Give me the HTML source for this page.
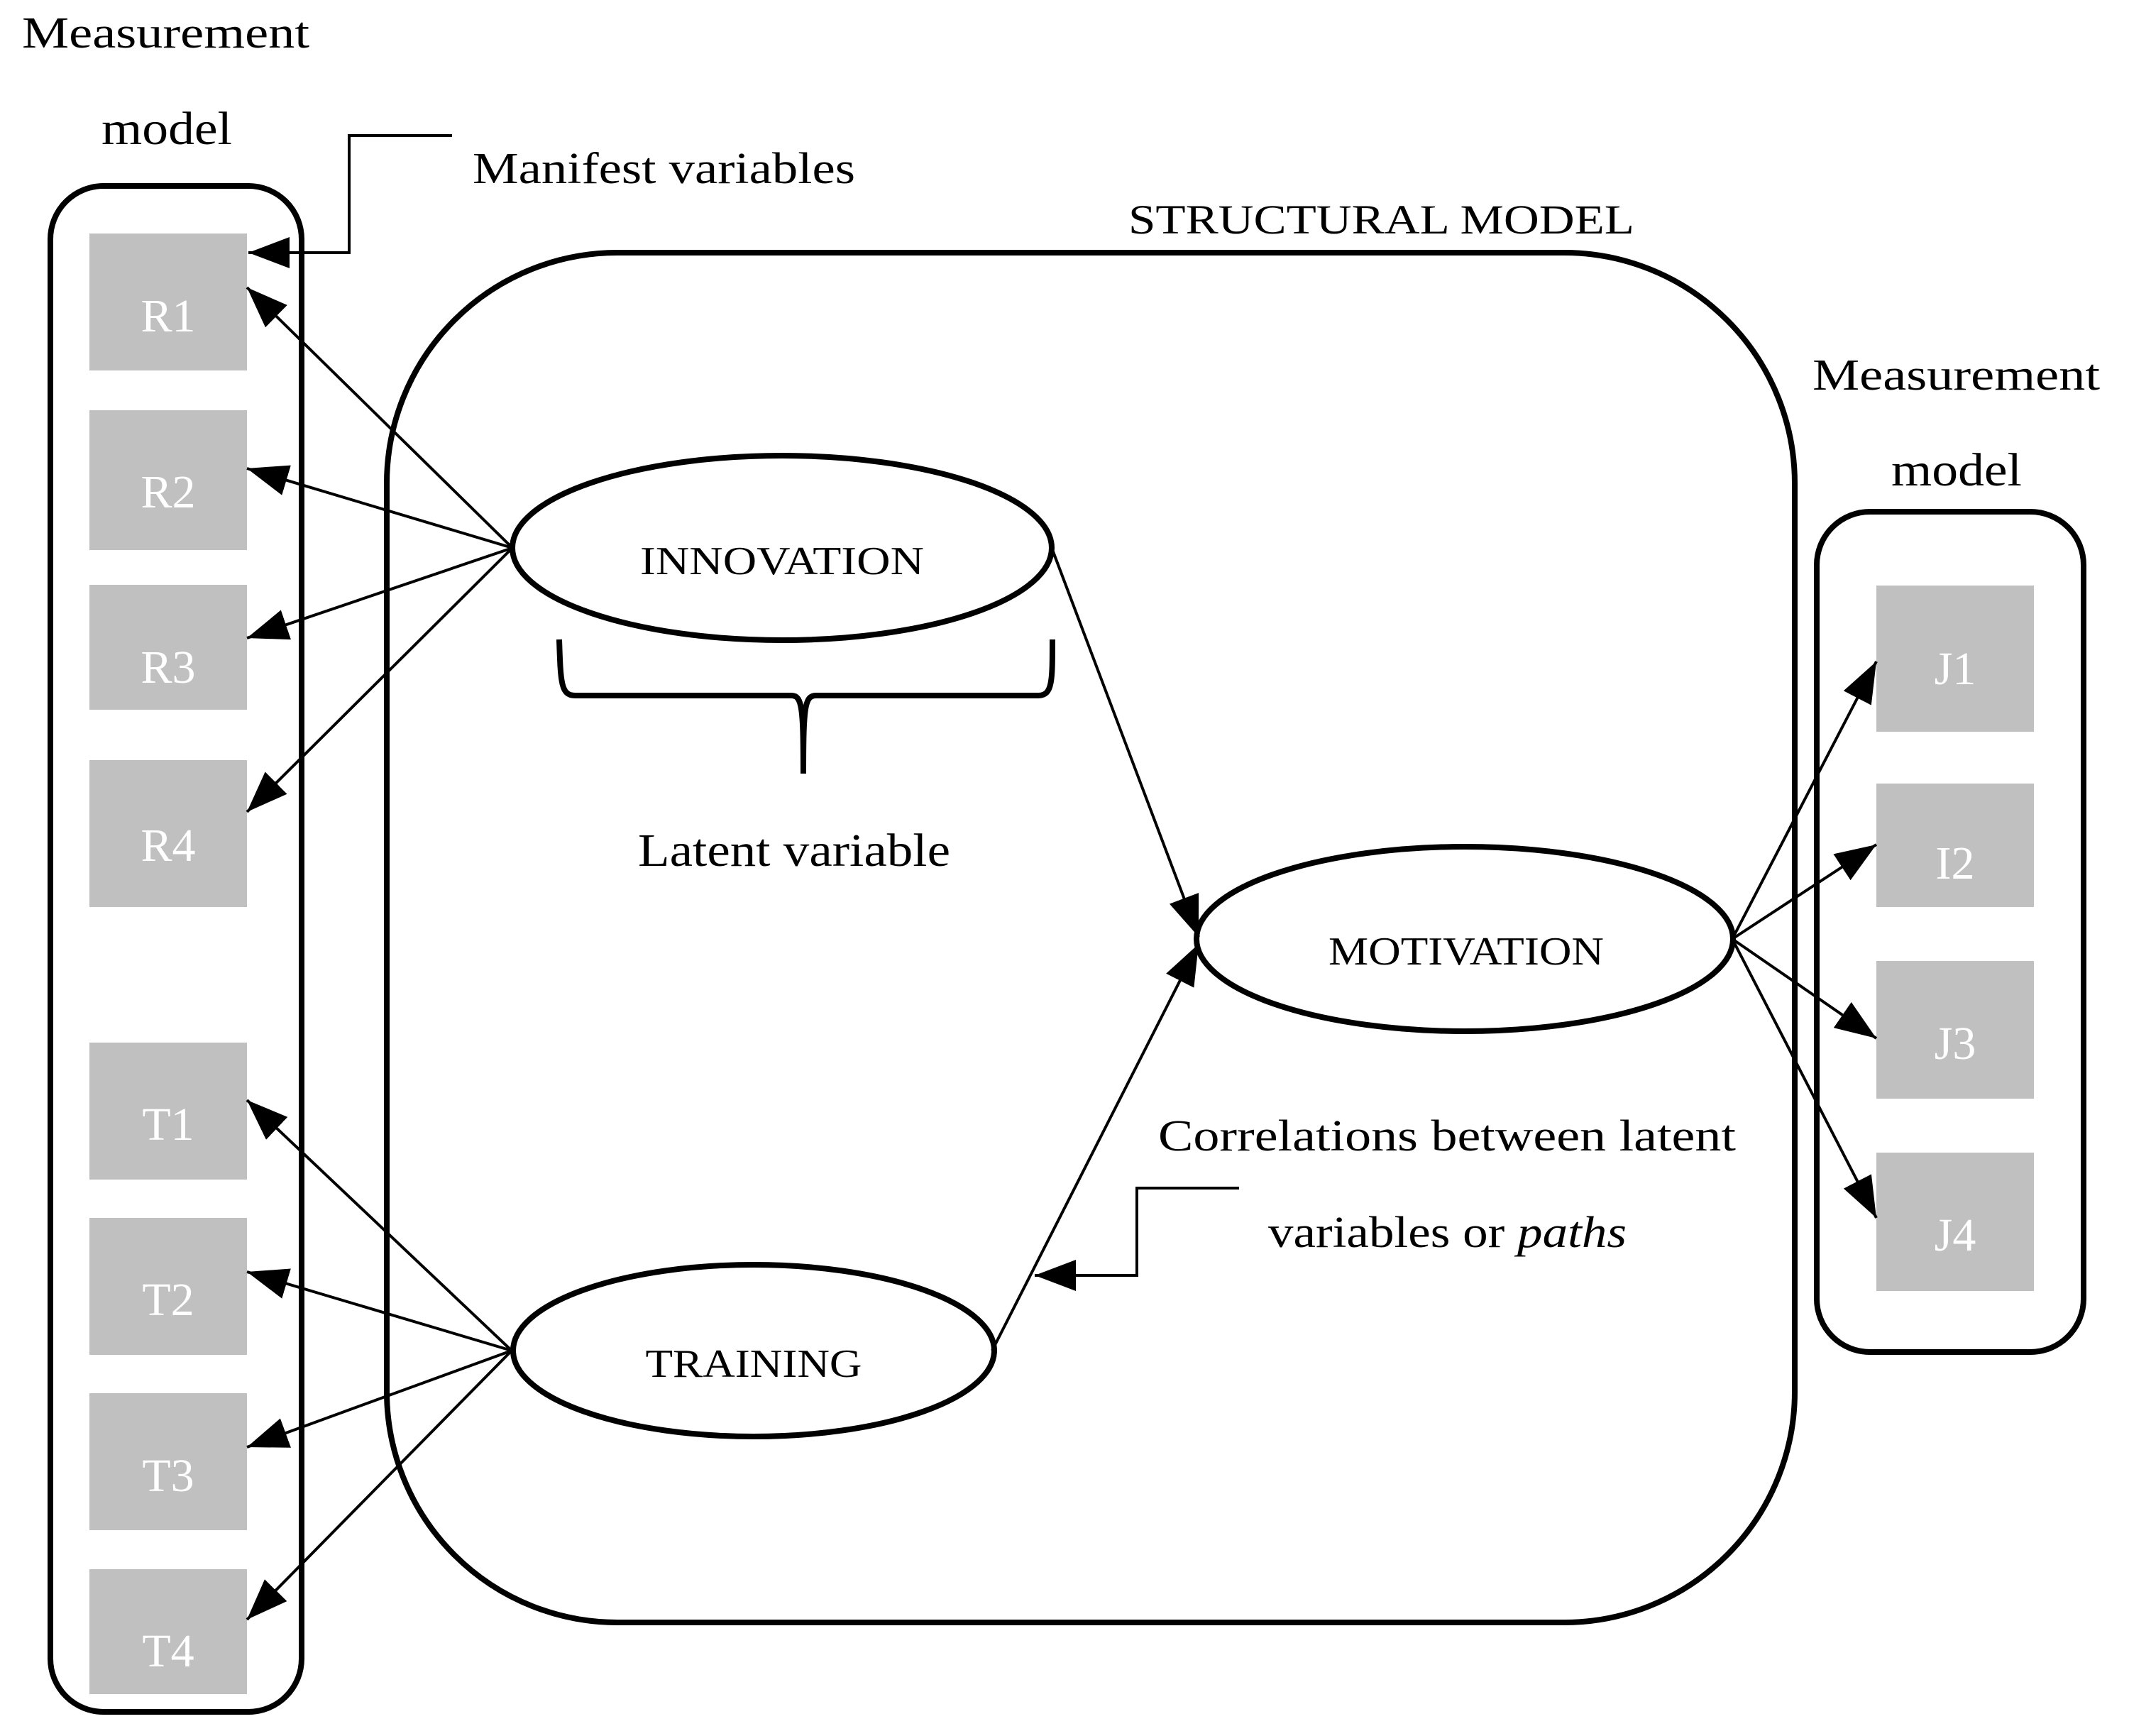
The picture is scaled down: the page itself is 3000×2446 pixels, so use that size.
<!DOCTYPE html>
<html><head><meta charset="utf-8"><style>html,body{margin:0;padding:0;background:#fff}svg{display:block}</style></head><body>
<svg width="3000" height="2446" viewBox="0 0 3000 2446" xmlns="http://www.w3.org/2000/svg" font-family="'Liberation Serif', serif">
<defs>
<marker id="a" markerUnits="userSpaceOnUse" markerWidth="60" markerHeight="50" refX="58" refY="22" orient="auto"><path d="M0,0 L58,22 L0,44 Z" fill="#000"/></marker>
</defs>
<g fill="none" stroke="#000" stroke-width="8">
<rect x="71" y="262" width="354" height="2150" rx="75"/>
<rect x="545" y="356" width="1984" height="1930" rx="325"/>
<rect x="2560" y="721" width="376" height="1184" rx="75"/>
<ellipse cx="1102" cy="772" rx="380" ry="130"/>
<ellipse cx="2064" cy="1323" rx="378" ry="130"/>
<ellipse cx="1062" cy="1903" rx="339" ry="121"/>
<path d="M788,901 C790,960 790,980 810,980 L1115,980 C1130,980 1132,995 1132,1090 C1132,995 1134,980 1150,980 L1463,980 C1483,980 1483,960 1483,901"/>
</g>
<g fill="#c0c0c0">
<rect x="126" y="329" width="222" height="193"/>
<rect x="126" y="578" width="222" height="197"/>
<rect x="126" y="824" width="222" height="176"/>
<rect x="126" y="1071" width="222" height="207"/>
<rect x="126" y="1469" width="222" height="193"/>
<rect x="126" y="1716" width="222" height="193"/>
<rect x="126" y="1963" width="222" height="193"/>
<rect x="126" y="2211" width="222" height="176"/>
<rect x="2644" y="825" width="222" height="206"/>
<rect x="2644" y="1104" width="222" height="174"/>
<rect x="2644" y="1354" width="222" height="194"/>
<rect x="2644" y="1624" width="222" height="195"/>
</g>
<g fill="none" stroke="#000" stroke-width="4" marker-end="url(#a)">
<path d="M637,191 L492,191 L492,356 L350,356"/>
<path d="M1746,1674 L1602,1674 L1602,1797 L1458,1797"/>
<line x1="722" y1="772" x2="348" y2="405"/>
<line x1="722" y1="772" x2="348" y2="660"/>
<line x1="722" y1="772" x2="348" y2="899"/>
<line x1="722" y1="772" x2="348" y2="1144"/>
<line x1="721" y1="1903" x2="348" y2="1550"/>
<line x1="721" y1="1903" x2="348" y2="1792"/>
<line x1="721" y1="1903" x2="348" y2="2039"/>
<line x1="721" y1="1903" x2="348" y2="2282"/>
<line x1="1482" y1="772" x2="1689" y2="1320"/>
<line x1="1398" y1="1903" x2="1689" y2="1330"/>
<line x1="2441" y1="1323" x2="2644" y2="932"/>
<line x1="2441" y1="1323" x2="2644" y2="1190"/>
<line x1="2441" y1="1323" x2="2644" y2="1463"/>
<line x1="2441" y1="1323" x2="2644" y2="1716"/>
</g>
<g fill="#fff" font-size="66" text-anchor="middle">
<text x="237" y="467">R1</text>
<text x="237" y="715">R2</text>
<text x="237" y="962">R3</text>
<text x="237" y="1213">R4</text>
<text x="237" y="1606">T1</text>
<text x="237" y="1853">T2</text>
<text x="237" y="2101">T3</text>
<text x="237" y="2348">T4</text>
<text x="2755" y="964">J1</text>
<text x="2755" y="1238">I2</text>
<text x="2755" y="1492">J3</text>
<text x="2755" y="1762">J4</text>
</g>
<g fill="#000" font-size="62">
<text x="31" y="67" textLength="405" lengthAdjust="spacingAndGlyphs">Measurement</text>
<text x="143" y="203" font-size="66" textLength="184" lengthAdjust="spacingAndGlyphs">model</text>
<text x="2554" y="549" textLength="405" lengthAdjust="spacingAndGlyphs">Measurement</text>
<text x="2665" y="684" font-size="66" textLength="184" lengthAdjust="spacingAndGlyphs">model</text>
<text x="666" y="258" textLength="539" lengthAdjust="spacingAndGlyphs">Manifest variables</text>
<text x="1590" y="329" font-size="58" textLength="713" lengthAdjust="spacingAndGlyphs">STRUCTURAL MODEL</text>
<text x="899" y="1220" font-size="66" textLength="440" lengthAdjust="spacingAndGlyphs">Latent variable</text>
<text x="1632" y="1621" textLength="814" lengthAdjust="spacingAndGlyphs">Correlations between latent</text>
<text x="1787" y="1757" textLength="505" lengthAdjust="spacingAndGlyphs">variables or <tspan font-style="italic">paths</tspan></text>
<text x="1102" y="809" font-size="56" text-anchor="middle" textLength="400" lengthAdjust="spacingAndGlyphs">INNOVATION</text>
<text x="2066" y="1359" font-size="56" text-anchor="middle" textLength="388" lengthAdjust="spacingAndGlyphs">MOTIVATION</text>
<text x="1062" y="1940" font-size="56" text-anchor="middle" textLength="305" lengthAdjust="spacingAndGlyphs">TRAINING</text>
</g>
</svg>
</body></html>
